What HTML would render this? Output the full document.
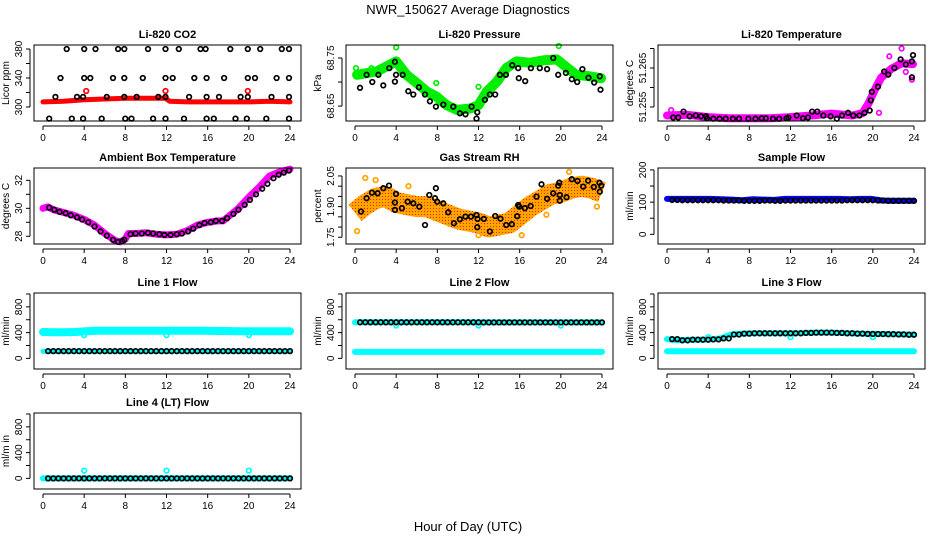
<!DOCTYPE html>
<html><head><meta charset="utf-8"><style>
html,body{margin:0;padding:0;background:#fff}
svg{display:block;font-family:"Liberation Sans",Arial,sans-serif}
</style></head><body>
<svg id="chart" width="936" height="540" viewBox="0 0 936 540" xmlns="http://www.w3.org/2000/svg">
<defs>
<pattern id="rhPat" width="3" height="3" patternUnits="userSpaceOnUse"><rect width="3" height="3" fill="#ffa500"/><rect x="1" y="1" width="1" height="1" fill="#ff2000"/></pattern>
</defs>
<text x="468" y="14" text-anchor="middle" font-size="13">NWR_150627  Average Diagnostics</text>
<text x="468" y="531" text-anchor="middle" font-size="13">Hour of Day (UTC)</text>
<g id="panels"></g>
</svg>
<script>
// ---------- data ----------
const xTicks = [0,4,8,12,16,20,24];
// CO2
const co2BlackX = [2.3,4.0,5.1,7.3,7.9,10.2,11.9,13.2,15.3,15.8,18.2,19.9,21.1,23.2,23.9, 1.7,4.0,4.6,6.8,7.9,9.7,11.9,12.6,14.7,15.9,17.6,19.9,20.6,22.7,23.9, 1.2,3.3,3.9,6.2,7.9,9.1,11.2,11.9,14.2,15.9,17.1,19.2,19.9,22.2,23.9, 0.6,2.8,3.9,5.7,8.0,8.6,10.7,11.9,13.7,15.9,16.6,18.7,19.8,21.7,23.9];
const co2BlackY = [380,380,380,380,380,380,380,380,380,380,380,380,380,380,380, 340,340,340,340,340,340,340,340,340,340,340,340,340,340,340, 314,314,314,314,314,314,314,314,314,314,314,314,314,314,314, 284,284,284,284,284,284,284,284,284,284,284,284,284,284,284];
const co2BandX = [0,2,4,6,8,10,11.9,12.3,14,16,18,20,22,24];
const co2BandY = [307,308,310,311,312,312,312,308,307,307,307,307,308,307];
const co2OutX = [4.2,11.9,19.9];
const co2OutY = [322,322,322];
// Pressure
const presBandX = [0.2,2.1,4.0,5.0,6.0,7.0,7.9,8.9,9.9,11.2,12.0,12.8,13.8,14.7,15.7,17.0,18.3,19.6,20.6,21.5,22.8,23.9];
const presBandY = [68.715,68.722,68.743,68.715,68.698,68.68,68.67,68.652,68.642,68.645,68.652,68.68,68.701,68.729,68.743,68.740,68.745,68.747,68.73,68.715,68.712,68.708];
const presBlackX = [0.49,1.13,1.68,2.27,2.75,3.33,3.88,3.98,3.88,4.63,5.18,5.66,6.21,6.80,7.28,7.86,8.58,9.55,10.19,10.74,11.33,11.88,11.81,12.62,13.11,13.62,14.08,14.66,15.28,15.86,15.92,16.54,17.09,17.96,18.67,19.26,19.74,20.49,21.07,21.59,22.10,22.69,23.24,23.79,23.85];
const presBlackY = [68.688,68.715,68.700,68.715,68.693,68.729,68.742,68.715,68.701,68.715,68.681,68.674,68.689,68.674,68.660,68.649,68.653,68.649,68.635,68.633,68.649,68.637,68.624,68.663,68.674,68.674,68.715,68.715,68.735,68.729,68.708,68.702,68.729,68.729,68.727,68.750,68.715,68.719,68.706,68.700,68.727,68.709,68.699,68.712,68.684];
const presOutX = [4.0,19.8,0.1,1.6,7.9,12.0];
const presOutY = [68.772,68.775,68.729,68.729,68.698,68.690];
// Li-820 temperature
const tempBandX = [0,2,4,6,8,10,12,14,16,18,19,19.6,20.3,20.8,21.8,22.8,23.9];
const tempBandY = [51.2528,51.2530,51.2524,51.2521,51.2521,51.2521,51.2524,51.2528,51.2533,51.2528,51.2534,51.2560,51.2600,51.2625,51.2648,51.2662,51.2660];
const tempBlackX = [0.6,1.1,1.6,2.2,2.8,3.3,3.8,3.9,4.5,5.1,5.7,6.4,7.0,7.9,8.6,9.2,9.6,10.3,10.9,11.6,11.8,12.6,13.2,13.7,14.1,14.6,15.2,15.9,16.5,17.0,17.6,18.1,18.7,19.2,19.7,19.8,19.9,20.5,21.1,21.5,22.1,22.7,23.2,23.8,23.8,23.9];
const tempBlackY = [51.2523,51.2523,51.2538,51.2526,51.2528,51.2526,51.2526,51.2521,51.2520,51.2520,51.2520,51.2520,51.2520,51.2520,51.2520,51.2521,51.2521,51.2520,51.2520,51.2521,51.2523,51.2528,51.2521,51.2523,51.2538,51.2538,51.2528,51.2526,51.2520,51.2528,51.2535,51.2528,51.2528,51.2535,51.2541,51.2567,51.2589,51.2602,51.2641,51.2633,51.2650,51.2672,51.2659,51.2626,51.2667,51.2683];
const tempOutX = [0.4,20.6,21.6,22.8,23.2,23.8];
const tempOutY = [51.2542,51.2535,51.2680,51.2700,51.2640,51.2620];
// Ambient box temperature
const ambBandX = [0,0.5,1,2,3,4,5,6,7,7.5,8,8.3,9,10,11,12,13,14,15,16,17,17.5,18,19,20,21,22,23,24];
const ambBandY = [30.0,30.1,29.9,29.7,29.5,29.2,28.8,28.2,27.7,27.6,27.8,28.2,28.2,28.25,28.15,28.1,28.15,28.4,28.8,29.0,29.1,29.1,29.4,30.0,30.8,31.5,32.3,32.6,32.8];
const ambBlackX = [0.6,1.1,1.6,2.2,2.7,3.3,3.8,4.4,5.0,5.6,6.2,6.8,7.3,7.7,7.9,8.5,9.0,9.6,10.2,10.7,11.3,11.8,12.4,13.0,13.5,14.1,14.6,15.2,15.7,16.3,16.8,17.4,17.9,18.5,19.0,19.6,20.1,20.7,21.3,21.8,22.4,22.9,23.4,23.9];
const ambBlackY = [30.05,29.9,29.75,29.65,29.5,29.35,29.2,29.0,28.7,28.35,28.05,27.75,27.6,27.65,27.75,28.15,28.2,28.2,28.25,28.2,28.15,28.1,28.1,28.15,28.2,28.35,28.55,28.8,28.95,29.0,29.1,29.1,29.3,29.6,29.9,30.25,30.6,31.0,31.4,31.75,32.15,32.4,32.55,32.7];
// Gas stream RH
const rhBandX = [0,1,2,3,4,5,6,7,8,9,10,11,12,13,14,15,16,17,18,19,20,21,22,23,24];
const rhBandY = [1.87,1.91,1.94,1.95,1.92,1.91,1.90,1.90,1.88,1.86,1.84,1.83,1.82,1.80,1.81,1.82,1.86,1.90,1.93,1.96,1.97,1.99,2.00,1.99,1.97];
const rhBlackX = [0.58,1.13,1.65,2.20,2.75,3.30,3.88,3.98,3.88,4.56,5.11,5.66,6.25,6.8,7.22,7.77,7.86,7.99,8.58,9.06,9.61,10.19,10.74,11.26,11.81,11.91,11.88,12.52,13.11,13.62,14.14,14.69,15.24,15.76,15.86,15.95,16.50,17.06,17.64,18.12,18.67,19.26,19.74,19.84,19.90,19.90,20.55,21.07,21.62,22.17,22.65,23.20,23.75,23.79,23.92];
const rhBlackY = [1.876,1.941,1.968,1.965,1.990,2.003,1.884,1.962,1.920,1.892,1.924,1.916,1.900,1.810,1.957,1.941,1.990,1.924,1.916,1.872,1.819,1.838,1.851,1.851,1.859,1.840,1.799,1.840,1.778,1.854,1.841,1.810,1.814,1.853,1.908,1.900,1.892,1.903,1.949,2.009,1.938,1.965,2.003,2.017,1.957,1.929,1.946,2.034,2.026,1.998,2.027,1.996,2.017,1.973,2.003];
const rhOutX = [0.2,1.0,2.0,5.2,20.8,18.6,23.5,12.0,16.2];
const rhOutY = [1.78,2.04,2.03,2.00,2.07,1.86,1.90,1.76,1.76];
// Sample flow (hourly)
const sampleBlack = [107,106,106,106,106,105,105,104,104,105,104,105,105,105,105,105,105,106,106,106,105,104,104,104];
const sampleBand = [110,110,110,110,110,109,108,106,109,108,107,110,110,110,110,110,110,109,110,110,105,104,104,104];
// Line flows (hourly)
const line1Black = [113,113,113,113,113,113,113,113,113,113,113,113,113,113,113,113,113,113,113,113,113,113,113,113];
const line1Band = [410,405,405,410,420,428,430,430,430,430,430,430,430,430,430,428,425,425,420,420,420,420,420,420];
const line1Low = [110,110,110,110,110,110,110,110,110,110,110,110,110,110,110,110,110,110,110,110,110,110,110,110];
const line2Black = [560,560,560,560,560,560,560,560,560,560,560,560,558,558,558,558,558,558,558,558,558,558,558,558];
const line2Band = [100,100,100,100,100,100,100,100,100,100,100,100,100,100,100,100,100,100,100,100,100,100,100,100];
const line3Black = [300,280,290,290,295,310,370,385,390,390,390,390,390,395,400,400,395,390,385,380,378,375,372,368];
const line3Band = [110,110,110,110,110,110,110,110,110,110,110,110,110,110,110,110,110,110,110,110,110,110,110,110];
const line4Black = [0,0,0,0,0,0,0,0,0,0,0,0,0,0,0,0,0,0,0,0,0,0,0,0];
const line4Band = [0,0,0,0,0,0,0,0,0,0,0,0,0,0,0,0,0,0,0,0,0,0,0,0];
const outlierHours = [4,12,20];
const line1Out = [360,360,360];
const line2Out = [510,510,510];
const line3Out = [330,330,330];
const line4Out = [120,120,120];
const flowTicks = [0,200,400,600,800,1000];
const flowLabels = ["0","","400","","800",""];

// ---------- layout ----------
const colLeft = [34,346,658];
const rowTop = [45,168,293,413];
const BW = 267, BH = 76;
const NS = "http://www.w3.org/2000/svg";
const root = document.getElementById('panels');

function mk(tag, attrs, parent) {
  const e = document.createElementNS(NS, tag);
  for (const k in attrs) e.setAttribute(k, attrs[k]);
  (parent || root).appendChild(e);
  return e;
}

function panel(cfg) {
  const L = colLeft[cfg.col], T = rowTop[cfg.row], B = T + BH, R = L + BW;
  const g = mk('g', {});
  
  
  const sx = h => L + 9 + h / 24 * 247;
  const sy = v => B - (v - cfg.ylim[0]) / (cfg.ylim[1] - cfg.ylim[0]) * BH;
  cfg.layers.forEach(layer => {
    if (layer.type === 'band') {
      const pts = layer.x.map((h, i) => sx(h).toFixed(1) + ',' + sy(layer.y[i]).toFixed(1)).join(' ');
      const pl = mk('polyline', {points: pts, fill: 'none', stroke: layer.color, 'stroke-width': layer.w, 'stroke-linejoin': 'round', 'stroke-linecap': layer.cap || 'round'}, g);
      
      
    } else {
      const pg = mk('g', {fill: 'none', stroke: layer.color, 'stroke-width': 1.7}, g);
      
      
      layer.x.forEach((h, i) => {
        const c = mk('circle', {cx: sx(h).toFixed(1), cy: sy(layer.y[i]).toFixed(1), r: 2.3}, pg);
        
        
      });
    }
  });
  const box = mk('rect', {x: L, y: T, width: BW, height: BH, fill: 'none', stroke: '#000', 'stroke-width': 1}, g);
  
  
  const tt = mk('text', {x: L + BW / 2, y: T - 7, 'text-anchor': 'middle', 'font-size': 11, 'font-weight': 'bold'}, g);
  tt.textContent = cfg.title;
  
  
  const xa = mk('g', {stroke: '#000', 'stroke-width': 1}, g);
  
  
  const ay = B + 5;
  mk('line', {x1: sx(0), y1: ay, x2: sx(24), y2: ay}, xa);
  xTicks.forEach(t => {
    mk('line', {x1: sx(t), y1: ay, x2: sx(t), y2: ay + 4}, xa);
    const lb = mk('text', {x: sx(t), y: B + 20, 'text-anchor': 'middle', 'font-size': 10, stroke: 'none', fill: '#000'}, xa);
    lb.textContent = t;
    
    
  });
  const ya = mk('g', {stroke: '#000', 'stroke-width': 1}, g);
  
  
  const axx = L - 4;
  mk('line', {x1: axx, y1: sy(cfg.ticks[0]), x2: axx, y2: sy(cfg.ticks[cfg.ticks.length - 1])}, ya);
  cfg.ticks.forEach((t, i) => {
    mk('line', {x1: axx, y1: sy(t), x2: axx - 4, y2: sy(t)}, ya);
    if (cfg.labels[i]) {
      const yy = sy(t), xx = L - 12;
      const lb = mk('text', {x: xx, y: yy, 'text-anchor': 'middle', 'font-size': 10, stroke: 'none', fill: '#000', transform: 'rotate(-90 ' + xx + ' ' + yy + ')'}, ya);
      lb.textContent = cfg.labels[i];
      
      
    }
  });
  const yl = L - 25, ym = T + BH / 2;
  const yt = mk('text', {x: yl, y: ym, 'text-anchor': 'middle', 'font-size': 10, transform: 'rotate(-90 ' + yl + ' ' + ym + ')'}, g);
  yt.textContent = cfg.ylab;
  
  
}

function halfSteps(arr) { const xs = [], ys = []; arr.forEach((v, i) => { xs.push(i + 0.5); ys.push(v); xs.push(i + 1); ys.push(v); }); return [xs, ys]; }
function bandHours(arr) { return arr.map((v, i) => i * 24 / (arr.length - 1)); }

const flowYlim = [-165, 1015];

panel({name: 'co2', col: 0, row: 0, title: 'Li-820 CO2', ylab: 'Licor ppm', ylim: [280.7, 385.5],
  ticks: [300,320,340,360,380], labels: ['300','','340','','380'],
  layers: [
    {type: 'band', x: co2BandX, y: co2BandY, color: '#ff0000', w: 5, dn: 'red-band'},
    {type: 'pts', x: co2OutX, y: co2OutY, color: '#ff0000', dn: 'red-outliers'},
    {type: 'pts', x: co2BlackX, y: co2BlackY, color: '#000', dn: 'black-points'}]});
panel({name: 'pressure', col: 1, row: 0, title: 'Li-820 Pressure', ylab: 'kPa', ylim: [68.619, 68.777],
  ticks: [68.65,68.70,68.75], labels: ['68.65','','68.75'],
  layers: [
    {type: 'band', x: presBandX, y: presBandY, color: '#00ee00', w: 10, dn: 'green-band'},
    {type: 'pts', x: presOutX, y: presOutY, color: '#00ee00', dn: 'green-outliers'},
    {type: 'pts', x: presBlackX, y: presBlackY, color: '#000', dn: 'black-points'}]});
panel({name: 'li820-temp', col: 2, row: 0, title: 'Li-820 Temperature', ylab: 'degrees C', ylim: [51.2514, 51.2709],
  ticks: [51.255,51.26,51.265,51.27], labels: ['51.255','','51.265',''],
  layers: [
    {type: 'band', x: tempBandX, y: tempBandY, color: '#ff00ff', w: 8, dn: 'magenta-band'},
    {type: 'pts', x: tempOutX, y: tempOutY, color: '#ff00ff', dn: 'magenta-outliers'},
    {type: 'pts', x: tempBlackX, y: tempBlackY, color: '#000', dn: 'black-points'}]});
panel({name: 'ambient', col: 0, row: 1, title: 'Ambient Box Temperature', ylab: 'degrees C', ylim: [27.45, 32.88],
  ticks: [28,29,30,31,32], labels: ['28','','30','','32'],
  layers: [
    {type: 'band', x: ambBandX, y: ambBandY, color: '#ff00ff', w: 7, dn: 'magenta-band'},
    {type: 'pts', x: ambBlackX, y: ambBlackY, color: '#000', dn: 'black-points'}]});
panel({name: 'gas-rh', col: 1, row: 1, title: 'Gas Stream RH', ylab: 'percent', ylim: [1.717, 2.089],
  ticks: [1.75,1.80,1.85,1.90,1.95,2.00,2.05], labels: ['1.75','','','1.90','','','2.05'],
  layers: [
    {type: 'band', x: rhBandX, y: rhBandY, color: 'url(#rhPat)', w: 21, cap: 'butt', dn: 'orange-band'},
    {type: 'pts', x: rhOutX, y: rhOutY, color: '#ffa500', dn: 'orange-outliers'},
    {type: 'pts', x: rhBlackX, y: rhBlackY, color: '#000', dn: 'black-points'}]});
(function(){
  const [bx, by] = halfSteps(sampleBlack);
  panel({name: 'sample-flow', col: 2, row: 1, title: 'Sample Flow', ylab: 'ml/min', ylim: [-30, 206],
    ticks: [0,50,100,150,200], labels: ['0','','100','','200'],
    layers: [
      {type: 'band', x: bandHours(sampleBand), y: sampleBand, color: '#0000ff', w: 6, dn: 'blue-band'},
      {type: 'pts', x: bx, y: by, color: '#000', dn: 'black-points'}]});
})();
function flow(name, col, row, title, blackArr, bandArr, outArr) {
  const [bx, by] = halfSteps(blackArr);
  panel({name, col, row, title, ylab: row === 3 ? 'ml/m in' : 'ml/min', ylim: flowYlim, ticks: flowTicks, labels: flowLabels,
    layers: [
      {type: 'band', x: bandHours(bandArr), y: bandArr, color: '#00ffff', w: 6, dn: 'cyan-band'},
      {type: 'band', x: bandHours(blackArr), y: blackArr, color: '#00ffff', w: 6, dn: 'cyan-under-band'},
      {type: 'pts', x: outlierHours, y: outArr, color: '#00ffff', dn: 'cyan-outliers'},
      {type: 'pts', x: bx, y: by, color: '#000', dn: 'black-points'}]});
}
(function(){
  const [bx, by] = halfSteps(line1Black);
  panel({name: 'line1-flow', col: 0, row: 2, title: 'Line 1 Flow', ylab: 'ml/min', ylim: flowYlim, ticks: flowTicks, labels: flowLabels,
    layers: [
      {type: 'band', x: bandHours(line1Band), y: line1Band, color: '#00ffff', w: 8, dn: 'cyan-band'},
      {type: 'band', x: bandHours(line1Low), y: line1Low, color: '#00ffff', w: 5, dn: 'cyan-under-band'},
      {type: 'pts', x: outlierHours, y: line1Out, color: '#00ffff', dn: 'cyan-outliers'},
      {type: 'pts', x: bx, y: by, color: '#000', dn: 'black-points'}]});
})();
flow('line2-flow', 1, 2, 'Line 2 Flow', line2Black, line2Band, line2Out);
flow('line3-flow', 2, 2, 'Line 3 Flow', line3Black, line3Band, line3Out);
flow('line4-flow', 0, 3, 'Line 4 (LT) Flow', line4Black, line4Band, line4Out);
</script>
</body></html>
